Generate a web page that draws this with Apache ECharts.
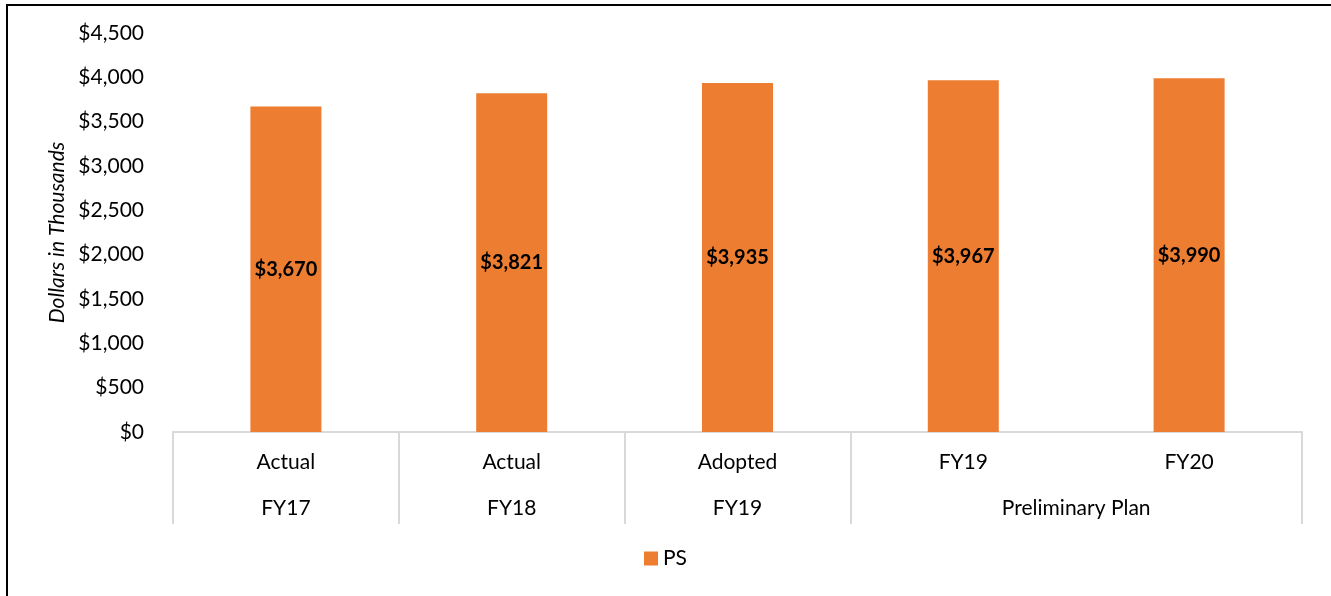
<!DOCTYPE html>
<html>
<head>
<meta charset="utf-8">
<script src="https://cdn.jsdelivr.net/npm/echarts@6/dist/echarts.min.js"></script>
<style>
  html, body { margin: 0; padding: 0; background: #fff; }
  #chart { position: absolute; left: 0; top: 0; width: 1331px; height: 596px; }
  #frame { position: absolute; left: 6px; top: 4px; width: 1323px; height: 600px;
           border-left: 2px solid #000; border-top: 2px solid #000; border-right: 1px solid #888;
           pointer-events: none; }
</style>
</head>
<body>
<div id="chart"></div>
<div id="frame"></div>
<script>
// bar categories (first row) and values
const periods = ['Actual', 'Actual', 'Adopted', 'FY19', 'FY20']
const psValues = [3670, 3821, 3935, 3967, 3990]
// second row groups and how many bars each spans
const groups = ['FY17', 'FY18', 'FY19', 'Preliminary Plan']
const groupSpans = [1, 1, 1, 2]
const yTicks = { min: 0, max: 4500, interval: 500 }

// second-row axis: 2 slots per bar, boundary points at even indices
const slots = []
const tickAt = {}
let pos = 0
tickAt[0] = true
groups.forEach((g, i) => {
    const n = groupSpans[i] * 2
    for (let k = 0; k < n; k++) slots.push('')
    slots[pos + n / 2] = g
    pos += n
    tickAt[pos] = true
})
slots.push('')

const font = 'Lato, "Open Sans", sans-serif'
const chart = echarts.init(document.getElementById('chart'))

chart.setOption({
    animation: false,
    grid: { left: 173, right: 29, top: 33, bottom: 164 },
    legend: {
        bottom: 22,
        left: 'center',
        icon: 'rect',
        itemWidth: 14,
        itemHeight: 14,
        itemGap: 10,
        textStyle: { fontFamily: font, fontSize: 21, color: '#000' },
        data: ['PS']
    },
    xAxis: [
        {
            type: 'category',
            data: periods,
            position: 'bottom',
            axisLine: { lineStyle: { color: '#d9d9d9', width: 2 } },
            axisTick: { show: false },
            axisLabel: { margin: 20, fontFamily: font, fontSize: 21, color: '#000', interval: 0 }
        },
        {
            type: 'category',
            data: slots,
            boundaryGap: false,
            position: 'bottom',
            axisLine: { show: false },
            axisTick: {
                show: true,
                length: 92,
                interval: (idx) => !!tickAt[idx],
                lineStyle: { color: '#d9d9d9', width: 2 }
            },
            axisLabel: {
                margin: 66,
                fontFamily: font,
                fontSize: 21,
                color: '#000',
                interval: (idx, val) => val !== ''
            }
        }
    ],
    yAxis: {
        type: 'value',
        min: yTicks.min,
        max: yTicks.max,
        interval: yTicks.interval,
        name: 'Dollars in Thousands',
        nameLocation: 'middle',
        nameGap: 97,
        nameTextStyle: { fontFamily: font, fontSize: 21, fontStyle: 'italic', color: '#000' },
        axisLine: { show: false },
        axisTick: { show: false },
        splitLine: { show: false },
        axisLabel: {
            margin: 29,
            fontFamily: font,
            fontSize: 21,
            color: '#000',
            formatter: (v) => '$' + v.toLocaleString('en-US')
        }
    },
    series: [
        {
            name: 'PS',
            type: 'bar',
            xAxisIndex: 0,
            data: psValues,
            barWidth: 71,
            itemStyle: { color: '#ED7D31' },
            label: {
                show: true,
                position: 'inside',
                fontFamily: font,
                fontWeight: 'bold',
                fontSize: 20,
                color: '#000',
                formatter: (p) => '$' + p.value.toLocaleString('en-US')
            }
        }
    ]
})
</script>
</body>
</html>
